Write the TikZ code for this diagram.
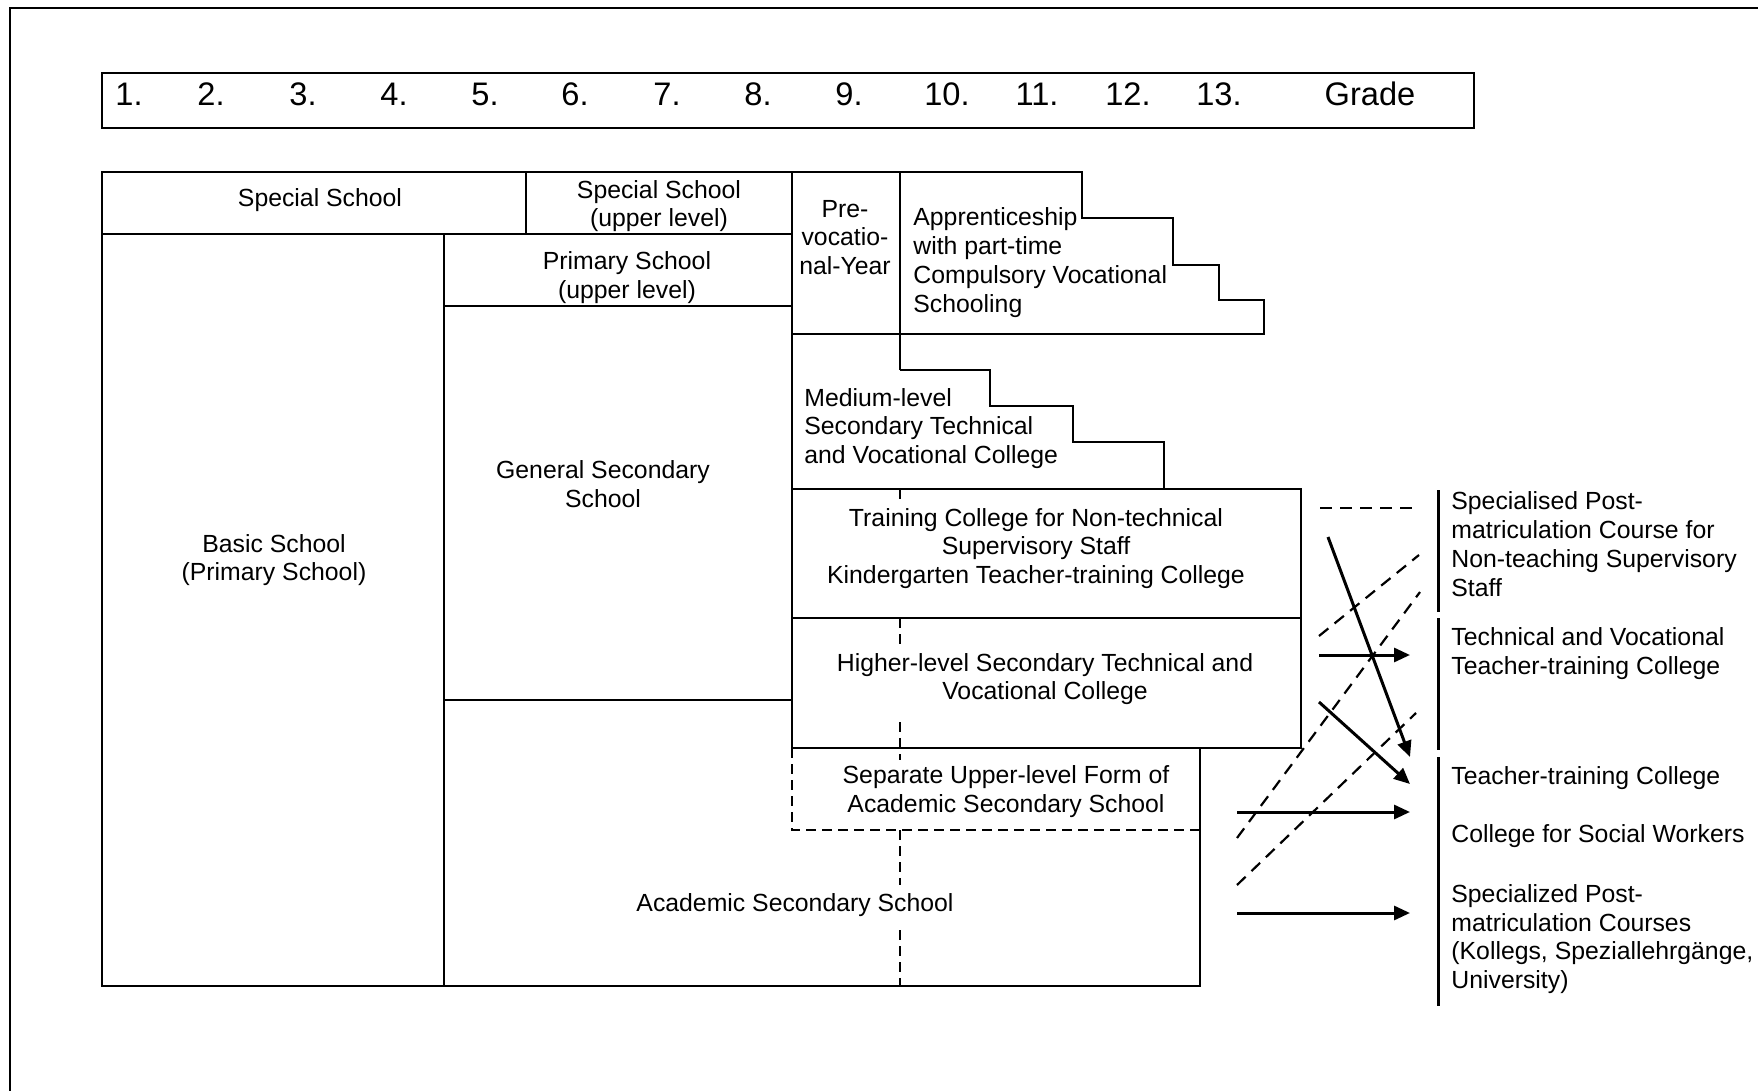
\documentclass[tikz,border=0pt]{standalone}
\usepackage{fontspec}
\setmainfont{Liberation Sans}
\usetikzlibrary{arrows.meta}
\begin{document}
\begin{tikzpicture}[x=0.5pt,y=-0.5pt,
  box/.style={line width=0.6pt},
  txt/.style={font=\fontsize{12.4}{14.4}\selectfont, align=center, inner sep=0pt},
  ltxt/.style={font=\fontsize{12.4}{14.4}\selectfont, align=left, inner sep=0pt, anchor=west},
  grd/.style={font=\fontsize{16.3}{18}\selectfont, inner sep=0pt},
  dsh/.style={line width=0.6pt, dash pattern=on 5pt off 3pt},
  ddiag/.style={line width=1.1pt, dash pattern=on 6pt off 4pt},
  arr/.style={line width=1.5pt, -{Triangle[length=8pt,width=7pt]}},
  bar/.style={line width=1.5pt}]
\fill[white] (0,0) rectangle (1758,1091);
\useasboundingbox (0,0) rectangle (1758,1091);

% outer frame
\draw[box] (1758,8) -- (10,8) -- (10,1091);

% grade row
\draw[box] (102,73) rectangle (1474,128);
\foreach \g/\x in {1/129,2/211,3/303,4/394,5/485,6/575,7/667,8/758,9/849,10/947,11/1037,12/1128,13/1219}
  \node[grd] (g\g) at (\x,94) {\g.};
\node[grd] (grade) at (1370,94) {Grade};

% dashed vertical through upper-level schools (visible pieces)
\draw[dsh] (900,489) -- (900,499);
\draw[dsh] (900,618) -- (900,646);
\draw[dsh] (900,722) -- (900,760);
\draw[dsh] (900,830) -- (900,885);
\draw[dsh] (900,930) -- (900,986);

% boxes
\draw[box] (102,172) rectangle (792,234);
\draw[box] (526,172) -- (526,234);
\draw[box] (792,172) -- (1082,172) -- (1082,218) -- (1173,218) -- (1173,265)
  -- (1219,265) -- (1219,300) -- (1264,300) -- (1264,334) -- (792,334);
\draw[box] (900,172) -- (900,370);
\draw[box] (900,370) -- (990,370) -- (990,406) -- (1073,406) -- (1073,442)
  -- (1164,442) -- (1164,489);
\draw[box] (792,172) -- (792,748);
\draw[box] (792,489) rectangle (1301,748);
\draw[box] (792,618) -- (1301,618);
\draw[box] (102,234) rectangle (444,986);
\draw[box] (444,306) -- (792,306);
\draw[box] (444,700) -- (792,700);
\draw[box] (444,986) -- (1200,986) -- (1200,748);
\draw[dsh] (792,748) -- (792,830) -- (1200,830);

% texts in boxes
\node[txt] (special) at (320,200) {Special School};
\node[txt] (specialup) at (659,206) {Special School\\(upper level)};
\node[txt] (prevoc) at (845,237.5) {Pre-\\vocatio-\\nal-Year};
\node[ltxt] (appr) at (913,262.5) {Apprenticeship\\with part-time\\Compulsory Vocational\\Schooling};
\node[txt] (primup) at (627,277.5) {Primary School\\(upper level)};
\node[txt] (gensec) at (603,484) {General Secondary\\School};
\node[txt] (basic) at (274,560) {Basic School\\(Primary School)};
\node[ltxt] (medium) at (804,428.5) {Medium-level\\Secondary Technical\\and Vocational College};
\node[txt] (training) at (1036,548.5) {Training College for Non-technical\\Supervisory Staff\\Kindergarten Teacher-training College};
\node[txt] (higher) at (1045,679) {Higher-level Secondary Technical and\\Vocational College};
\node[txt] (separate) at (1006,791.5) {Separate Upper-level Form of\\Academic Secondary School};
\node[txt] (academic) at (795,905.5) {Academic Secondary School};

% right-hand labels
\node[ltxt] (postnt) at (1451,544) {Specialised Post-\\matriculation Course for\\Non-teaching Supervisory\\Staff};
\node[ltxt] (techtt) at (1451,653.5) {Technical and Vocational\\Teacher-training College};
\node[ltxt] (teachtt) at (1451,778.5) {Teacher-training College};
\node[ltxt] (social) at (1451,836) {College for Social Workers};
\node[ltxt] (postmc) at (1451,939) {Specialized Post-\\matriculation Courses\\(Kollegs, Speziallehrgänge,\\University)};

% bars
\draw[bar] (1438,490) -- (1438,612);
\draw[bar] (1438,618) -- (1438,750);
\draw[bar] (1438,757) -- (1438,1006);

% connector end points
\coordinate (d1a) at (1320,508);  \coordinate (d1b) at (1415,508);
\coordinate (a1a) at (1328,537);  \coordinate (a1b) at (1410,757);
\coordinate (d2a) at (1319,636);  \coordinate (d2b) at (1419,555);
\coordinate (a2a) at (1319,655);  \coordinate (a2b) at (1410,655);
\coordinate (d3a) at (1237,838);  \coordinate (d3b) at (1420,592);
\coordinate (a3a) at (1319,702);  \coordinate (a3b) at (1410,784);
\coordinate (d4a) at (1237,885);  \coordinate (d4b) at (1416,713);
\coordinate (a4a) at (1237,812);  \coordinate (a4b) at (1410,812);
\coordinate (a5a) at (1237,913);  \coordinate (a5b) at (1410,913);

\draw[ddiag] (d1a) -- (d1b);
\draw[ddiag] (d2a) -- (d2b);
\draw[ddiag] (d3a) -- (d3b);
\draw[ddiag] (d4a) -- (d4b);
\draw[arr] (a1a) -- (a1b);
\draw[arr] (a2a) -- (a2b);
\draw[arr] (a3a) -- (a3b);
\draw[arr] (a4a) -- (a4b);
\draw[arr] (a5a) -- (a5b);
\end{tikzpicture}
\end{document}
